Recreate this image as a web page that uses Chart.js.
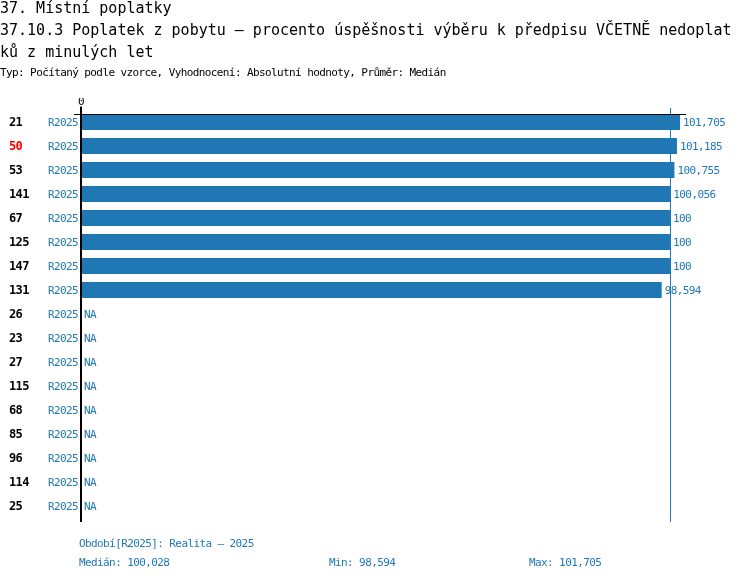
<!DOCTYPE html>
<html><head><meta charset="utf-8">
<script src="https://cdn.jsdelivr.net/npm/chart.js@4/dist/chart.umd.min.js"></script>
<style>
html,body{margin:0;padding:0;background:#fff;}
#wrap{position:relative;width:750px;height:582px;overflow:hidden;}
canvas{position:absolute;left:0;top:0;}
.t{position:absolute;font-family:"DejaVu Sans Mono",monospace;white-space:pre;}
.h{font-size:15px;line-height:22px;color:#000;left:0;}
.s{font-size:11px;line-height:14px;letter-spacing:-0.6px;color:#000;left:0;}
.f{font-size:11px;line-height:14px;letter-spacing:-0.6px;color:#1f77b4;}
</style></head>
<body>
<div id="wrap">
<canvas id="c" width="750" height="582"></canvas>
<div class="t h" style="top:-3px">37. Místní poplatky</div>
<div class="t h" style="top:19px">37.10.3 Poplatek z pobytu – procento úspěšnosti výběru k předpisu VČETNĚ nedoplat</div>
<div class="t h" style="top:41px">ků z minulých let</div>
<div class="t s" style="top:66px">Typ: Počítaný podle vzorce, Vyhodnocení: Absolutní hodnoty, Průměr: Medián</div>
<div class="t f" id="period" style="top:537px;left:79px"></div>
<div class="t f" id="med" style="top:556px;left:79px"></div>
<div class="t f" id="min" style="top:556px;left:329px"></div>
<div class="t f" id="max" style="top:556px;left:529px"></div>
</div>
<script>
const ids = ['21','50','53','141','67','125','147','131','26','23','27','115','68','85','96','114','25'];
const periods = ['R2025','R2025','R2025','R2025','R2025','R2025','R2025','R2025','R2025','R2025','R2025','R2025','R2025','R2025','R2025','R2025','R2025'];
const values = [101.705,101.185,100.755,100.056,100,100,100,98.594,null,null,null,null,null,null,null,null,null];
const highlightId = '50';
const periodLabel = 'Období[R2025]: Realita – 2025';
const axisMax = 102.72;

const BLUE = '#1f77b4';
const FONT = '"DejaVu Sans Mono", monospace';
const fmt = v => String(+v.toFixed(3)).replace('.', ',');

const valid = values.filter(v => v !== null).sort((a,b)=>a-b);
const n = valid.length;
const median = n % 2 ? valid[(n-1)/2] : (valid[n/2-1] + valid[n/2]) / 2;
const vmin = valid[0], vmax = valid[n-1];
document.getElementById('period').textContent = periodLabel;
document.getElementById('med').textContent = 'Medián: ' + fmt(median);
document.getElementById('min').textContent = 'Min: ' + fmt(vmin);
document.getElementById('max').textContent = 'Max: ' + fmt(vmax);

const deco = {
  id: 'deco',
  beforeDraw(chart) {
    chart.ctx.letterSpacing = '-0.6px';
  },
  beforeDatasetsDraw(chart) {
    const {ctx, chartArea, scales: {x}} = chart;
    const b0 = chart.getDatasetMeta(0).data[0];
    const topY = Math.round(b0.y - b0.height / 2);
    const xm = Math.round(x.getPixelForValue(median)) + 0.5;
    ctx.save();
    ctx.strokeStyle = BLUE; ctx.lineWidth = 1;
    ctx.beginPath(); ctx.moveTo(xm, topY - 6); ctx.lineTo(xm, chartArea.bottom + 4); ctx.stroke();
    ctx.restore();
  },
  afterDatasetsDraw(chart) {
    const {ctx, chartArea, scales: {x, y}} = chart;
    const b0 = chart.getDatasetMeta(0).data[0];
    const topY = Math.round(b0.y - b0.height / 2) + 0.5;
    const x0 = x.getPixelForValue(0);
    ctx.save();
    ctx.strokeStyle = '#000';
    ctx.lineWidth = 1;
    ctx.beginPath(); ctx.moveTo(x0 - 7, topY); ctx.lineTo(chartArea.right, topY); ctx.stroke();
    ctx.lineWidth = 2;
    ctx.beginPath(); ctx.moveTo(x0, topY - 8); ctx.lineTo(x0, chartArea.bottom + 4); ctx.stroke();
    ctx.fillStyle = BLUE;
    ctx.font = '11px ' + FONT;
    ctx.letterSpacing = '-0.6px';
    ctx.textBaseline = 'middle';
    ctx.textAlign = 'left';
    values.forEach((v, i) => {
      const py = y.getPixelForValue(i) + 1;
      if (v === null) ctx.fillText('NA', x0 + 3, py);
      else ctx.fillText(fmt(v), x.getPixelForValue(v) + 3, py);
    });
    ctx.restore();
  }
};

new Chart(document.getElementById('c'), {
  type: 'bar',
  data: {
    labels: periods,
    datasets: [{data: values, backgroundColor: BLUE, borderWidth: 0, barPercentage: 1, categoryPercentage: 2/3}]
  },
  options: {
    indexAxis: 'y',
    responsive: false,
    animation: false,
    devicePixelRatio: 1,
    layout: {padding: {left: 9, right: 64, top: 98, bottom: 64}},
    plugins: {legend: {display: false}, tooltip: {enabled: false}, title: {display: false}},
    scales: {
      x: {
        position: 'top', min: 0, max: axisMax,
        afterBuildTicks: s => { s.ticks = [{value: 0}]; },
        afterFit: s => { s.height = 12; },
        grid: {display: false, drawTicks: false},
        border: {display: false},
        ticks: {color: '#000', font: {family: FONT, size: 11}, padding: 1, maxRotation: 0}
      },
      y: {
        type: 'category', position: 'left', weight: 0, offset: true,
        afterFit: s => { s.width = 37; },
        grid: {display: false, drawTicks: false, offset: true},
        border: {display: false},
        ticks: {autoSkip: false, color: BLUE, font: {family: FONT, size: 11}, padding: 3, labelOffset: 1}
      },
      yid: {
        type: 'category', labels: ids, position: 'left', weight: 1, offset: true,
        afterFit: s => { s.width = 35; },
        grid: {display: false, drawTicks: false, offset: true},
        border: {display: false},
        ticks: {autoSkip: false, crossAlign: 'far', padding: 0, labelOffset: 1,
          color: c => ids[c.index] === highlightId ? '#ff0000' : '#000',
          font: {family: FONT, size: 12, weight: 'bold'}}
      }
    }
  },
  plugins: [deco]
});
</script>
</body></html>
